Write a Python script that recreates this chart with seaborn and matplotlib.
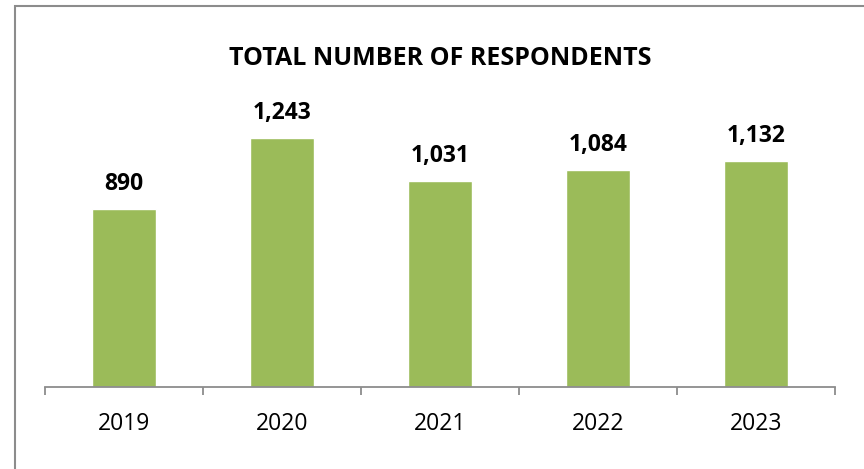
import matplotlib
matplotlib.use("Agg")
import matplotlib.pyplot as plt
import seaborn as sns
import pandas as pd
from matplotlib.patches import Rectangle

years = ["2019", "2020", "2021", "2022", "2023"]
respondents = [890, 1243, 1031, 1084, 1132]
title = "TOTAL NUMBER OF RESPONDENTS"

sns.set_theme(style="white")
plt.rcParams['font.family'] = ['Open Sans', 'DejaVu Sans']

df = pd.DataFrame({"year": years, "n": respondents})

fig = plt.figure(figsize=(8.64, 4.69), dpi=100)
ax = fig.add_axes([45/864, 1-387/469, (835-45)/864, 280/469])
sns.barplot(data=df, x="year", y="n", color="#9BBB59", width=0.41, ax=ax, saturation=1)

ax.set_ylim(0, 1400)
ax.set_xlim(-0.5, len(years)-0.5)
ax.set_xlabel("")
ax.set_ylabel("")
ax.set_yticks([])
for s in ["top", "right", "left"]:
    ax.spines[s].set_visible(False)
ax.spines["bottom"].set_color("#8c8c8c")
ax.spines["bottom"].set_linewidth(1.3)

ax.set_xticks([i - 0.5 for i in range(len(years)+1)], minor=False)
ax.set_xticklabels([""]*(len(years)+1))
ax.set_xticks(range(len(years)), minor=True)
ax.set_xticklabels(years, minor=True, fontsize=16.5)
ax.tick_params(axis="x", which="major", direction="out", length=6, width=1.3, color="#8c8c8c", bottom=True)
ax.tick_params(axis="x", which="minor", length=0, pad=18, labelcolor="#000000")

for i, v in enumerate(respondents):
    ax.annotate(f"{v:,}", (i, v), xytext=(0, 13.7), textcoords="offset points",
                ha="center", va="baseline", fontsize=16.5, fontweight="bold", color="black")

fig.text(440/864, 1-65/469, title, ha="center", va="baseline", fontsize=18, fontweight="bold", color="black")

fig.patches.append(Rectangle((15/864, -0.1), 1.2, 1.1 - 6/469 + 0.0, transform=fig.transFigure,
                             fill=False, edgecolor="#8c8c8c", linewidth=1.5, figure=fig))

fig.savefig("out.png", dpi=100)
